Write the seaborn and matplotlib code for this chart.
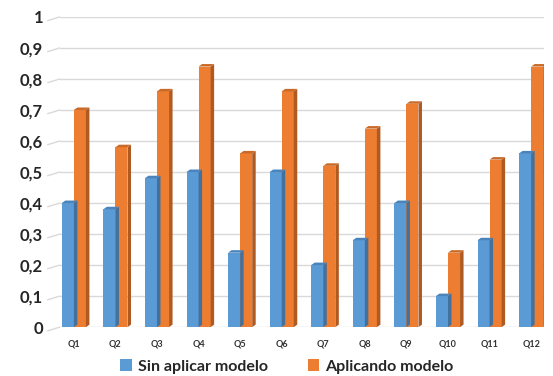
import pandas as pd
import matplotlib.pyplot as plt
from matplotlib.patches import Polygon
import seaborn as sns

# datos
preguntas = ['Q1', 'Q2', 'Q3', 'Q4', 'Q5', 'Q6', 'Q7', 'Q8', 'Q9', 'Q10', 'Q11', 'Q12']
sin_modelo = [0.40, 0.38, 0.48, 0.50, 0.24, 0.50, 0.20, 0.28, 0.40, 0.10, 0.28, 0.56]
con_modelo = [0.70, 0.58, 0.76, 0.84, 0.56, 0.76, 0.52, 0.64, 0.72, 0.24, 0.54, 0.84]
series = ['Sin aplicar modelo', 'Aplicando modelo']
colores = ['#5B9BD5', '#ED7D31']
colores_lado = ['#41719C', '#AE5A21']
colores_techo = ['#4A84BA', '#C96A28']
etiquetas_y = ['0', '0,1', '0,2', '0,3', '0,4', '0,5', '0,6', '0,7', '0,8', '0,9', '1']

df = pd.DataFrame({
    'Pregunta': preguntas * 2,
    'Valor': sin_modelo + con_modelo,
    'Serie': [series[0]] * len(preguntas) + [series[1]] * len(preguntas),
})

sns.set_style('white')
plt.rcParams['font.family'] = ['Lato', 'DejaVu Sans']

fig = plt.figure(figsize=(5.53, 3.76), dpi=100)
ax = fig.add_axes([0.108, 0.13, 0.875, 0.825])

sns.barplot(data=df, x='Pregunta', y='Valor', hue='Serie', palette=colores,
            width=0.58, saturation=1, linewidth=0, ax=ax, zorder=3)

ax.set_ylim(0, 1)
ax.set_xlim(-0.34, 11.3)
fig.canvas.draw()

# efecto 3D: cara lateral y superior a partir de cada barra
dx, dy = 3.5, 2.5
inv = ax.transData.inverted()
for cont, lado, techo in zip(ax.containers, colores_lado, colores_techo):
    for p in cont.patches:
        x0, y0 = p.get_x(), p.get_y()
        x1, y1 = x0 + p.get_width(), y0 + p.get_height()
        a, b, c = ax.transData.transform([[x1, y0], [x1, y1], [x0, y1]])
        side = inv.transform([a, b, b + [dx, dy], a + [dx, dy]])
        ax.add_patch(Polygon(side, closed=True, facecolor=lado, edgecolor='none', zorder=3))
        top = inv.transform([c, b, b + [dx, dy], c + [dx, dy]])
        ax.add_patch(Polygon(top, closed=True, facecolor=techo, edgecolor='none', zorder=3))

ax.set_yticks([i / 10 for i in range(11)])
ax.set_yticklabels(etiquetas_y, fontsize=12, fontweight='bold', color='#262626')
ax.tick_params(axis='y', pad=12, length=0)
ax.tick_params(axis='x', labelsize=6.5, pad=9, length=0, labelcolor='#333333')
for t in ax.get_xticklabels():
    t.set_fontweight('bold')
ax.yaxis.grid(True, color='#D9D9D9', linewidth=1, zorder=0)
ax.set_axisbelow(True)

# pequeno tramo inclinado de las lineas de cuadricula (perspectiva)
for v in ax.get_yticks():
    ax.plot([-0.025, 0.0], [v - 0.012, v], transform=ax.get_yaxis_transform(),
            color='#D9D9D9', linewidth=1, clip_on=False, zorder=0)

sns.despine(ax=ax, left=True, bottom=True)
ax.set_xlabel('')
ax.set_ylabel('')

ax.legend(loc='center', bbox_to_anchor=(0.47, -0.127), ncol=2, frameon=False,
          prop={'size': 11.5, 'weight': 'bold'}, handlelength=0.7, handleheight=0.7,
          columnspacing=2.5, handletextpad=0.4, borderpad=0)
for t in ax.get_legend().get_texts():
    t.set_color('#262626')

plt.savefig('out.png', dpi=100)
plt.close()
